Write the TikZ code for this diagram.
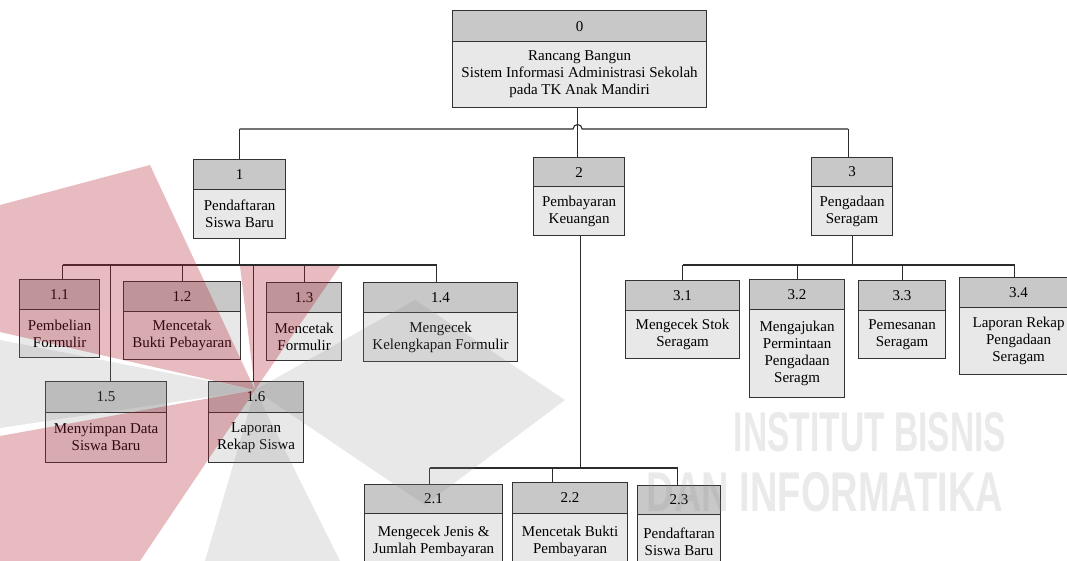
\documentclass[tikz,border=0pt]{standalone}
\usepackage{fontspec}
\setmainfont{Liberation Serif}
\newfontfamily\wmfont{Liberation Sans}
\definecolor{boxline}{HTML}{333333}
\definecolor{wire}{HTML}{2B2B2B}
\definecolor{hdrgray}{HTML}{C8C8C8}
\definecolor{bodygray}{HTML}{E8E8E8}
\definecolor{wmgray}{HTML}{8C8C8C}
\definecolor{wmred}{HTML}{B02030}

% one process box: #1 name, #2 left, #3 top, #4 header bottom, #5 right, #6 bottom, #7 number, #8 label
\newcommand\procbox[8]{%
  \node[hdr, minimum width={(#5-#2)*1pt}, minimum height={(#4-#3)*1pt}] (#1h) at (#2,#3) {#7};
  \node[bdy, minimum width={(#5-#2)*1pt}, minimum height={(#6-#4)*1pt}] (#1b) at (#2,#4) {#8};
}

\begin{document}
\begin{tikzpicture}[x=1pt,y=-1pt,
  lbl/.style={font=\fontsize{15}{17}\selectfont, align=center},
  hdr/.style={lbl, draw=boxline, fill=hdrgray, line width=1.2pt, inner sep=0pt, anchor=north west},
  bdy/.style={lbl, draw=boxline, fill=bodygray, line width=1.2pt, inner sep=0pt, anchor=north west},
  link/.style={draw=wire, line width=1.1pt},
  wm/.style={text=wmgray, text opacity=0.18, font=\wmfont\bfseries\fontsize{56}{56}\selectfont, inner sep=0pt},
  wmr/.style={fill=wmred, fill opacity=0.3},
  wmg/.style={fill=wmgray, fill opacity=0.2}]
\useasboundingbox (0,0) rectangle (1067,561);
\clip (0,0) rectangle (1067,561);
\fill[white] (0,0) rectangle (1067,561);

% ---- level 0 ----
\procbox{p0}{452}{10}{41}{706}{107}{0}{Rancang Bangun\\Sistem Informasi Administrasi Sekolah\\pada TK Anak Mandiri}

% ---- level 1 ----
\procbox{p1}{193}{159}{189}{285}{238}{1}{Pendaftaran\\Siswa Baru}
\procbox{p2}{533}{157}{186}{624}{235}{2}{Pembayaran\\Keuangan}
\procbox{p3}{811}{157}{186}{892}{235}{3}{Pengadaan\\Seragam}

% ---- children of 1 ----
\procbox{p11}{19}{279}{309}{99}{357}{1.1}{Pembelian\\Formulir}
\procbox{p12}{123}{281}{311}{240}{359}{1.2}{Mencetak\\Bukti Pebayaran}
\procbox{p13}{266}{282}{312}{341}{360}{1.3}{Mencetak\\Formulir}
\procbox{p14}{363}{282}{312}{517}{361}{1.4}{Mengecek\\Kelengkapan Formulir}
\procbox{p15}{45}{381}{412}{166}{462}{1.5}{Menyimpan Data\\Siswa Baru}
\procbox{p16}{208}{381}{412}{303}{462}{1.6}{Laporan\\Rekap Siswa}

% ---- children of 2 ----
\procbox{p21}{364}{484}{513}{502}{568}{2.1}{Mengecek Jenis \&\\Jumlah Pembayaran}
\procbox{p22}{512}{482}{513}{627}{568}{2.2}{Mencetak Bukti\\Pembayaran}
\procbox{p23}{637}{485}{514}{720}{568}{2.3}{Pendaftaran\\Siswa Baru}

% ---- children of 3 ----
\procbox{p31}{625}{280}{310}{739}{358}{3.1}{Mengecek Stok\\Seragam}
\procbox{p32}{749}{279}{309}{844}{397}{3.2}{Mengajukan\\Permintaan\\Pengadaan\\Seragm}
\procbox{p33}{858}{280}{310}{945}{358}{3.3}{Pemesanan\\Seragam}
\procbox{p34}{959}{277}{307}{1077}{374}{3.4}{Laporan Rekap\\Pengadaan\\Seragam}

% ---- bus levels ----
\coordinate (bus0) at (0,129);
\coordinate (bus1) at (0,265);
\coordinate (bus2) at (0,468);
\coordinate (bus3) at (0,265);

% top bus with a hop where the trunk of 0 crosses it
\coordinate (hop) at ([xshift=-2pt]p0b.south |- bus0);
\draw[link] (p1h.north |- bus0) -- ([xshift=-4.5pt]hop) arc[start angle=180, end angle=0, radius=4.5pt] -- ([xshift=-4pt]p3h.north |- bus0);
\draw[link] ([xshift=-2pt]p0b.south) -- (p2h.north -| hop);
\draw[link] (p1h.north) -- (p1h.north |- bus0);
\draw[link] ([xshift=-4pt]p3h.north) -- ([xshift=-4pt]p3h.north |- bus0);

% branch of 1
\draw[link] (p1b.south) -- (p1b.south |- bus1);
\draw[link] ([xshift=3pt]p11h.north |- bus1) -- ([xshift=-4pt]p14h.north |- bus1);
\draw[link] ([xshift=3pt]p11h.north) -- ([xshift=3pt]p11h.north |- bus1);
\draw[link] (p12h.north) -- (p12h.north |- bus1);
\draw[link] (p13h.north) -- (p13h.north |- bus1);
\draw[link] ([xshift=-4pt]p14h.north) -- ([xshift=-4pt]p14h.north |- bus1);
\draw[link] ([xshift=4.5pt]p15h.north) -- ([xshift=4.5pt]p15h.north |- bus1);
\draw[link] ([xshift=-2.5pt]p16h.north) -- ([xshift=-2.5pt]p16h.north |- bus1);

% branch of 2
\draw[link] ([xshift=1.5pt]p2b.south) -- ([xshift=1.5pt]p2b.south |- bus2);
\draw[link] ([xshift=-4pt]p21h.north |- bus2) -- ([xshift=-1.5pt]p23h.north |- bus2);
\draw[link] ([xshift=-4pt]p21h.north) -- ([xshift=-4pt]p21h.north |- bus2);
\draw[link] ([xshift=-17.5pt]p22h.north) -- ([xshift=-17.5pt]p22h.north |- bus2);
\draw[link] ([xshift=-1.5pt]p23h.north) -- ([xshift=-1.5pt]p23h.north |- bus2);

% branch of 3
\draw[link] (p3b.south) -- (p3b.south |- bus3);
\draw[link] (p31h.north |- bus3) -- ([xshift=-4pt]p34h.north |- bus3);
\draw[link] (p31h.north) -- (p31h.north |- bus3);
\draw[link] ([xshift=0.5pt]p32h.north) -- ([xshift=0.5pt]p32h.north |- bus3);
\draw[link] ([xshift=0.5pt]p33h.north) -- ([xshift=0.5pt]p33h.north |- bus3);
\draw[link] ([xshift=-4pt]p34h.north) -- ([xshift=-4pt]p34h.north |- bus3);

% watermark emblem: pinwheel of red and grey wedges round one centre
\coordinate (wc) at (255,390);
\fill[wmr] (wc) -- (0,332) -- (0,205) -- (150,165) -- cycle;
\fill[wmr] (wc) -- (240,266) -- (340,266) -- cycle;
\fill[wmg] (wc) -- (0,340) -- (0,428) -- cycle;
\fill[wmr] (wc) -- (0,436) -- (0,561) -- (140,561) -- cycle;
\fill[wmg] (wc) -- (205,561) -- (340,561) -- cycle;
\fill[wmg] (wc) -- (415,300) -- (565,400) -- (425,505) -- cycle;

% watermark lettering
\node[wm] (wm1) at (870,432) {\scalebox{0.6}[1]{INSTITUT BISNIS}};
\node[wm] (wm2) at (825,492) {\scalebox{0.68}[1]{DAN INFORMATIKA}};
\end{tikzpicture}
\end{document}
